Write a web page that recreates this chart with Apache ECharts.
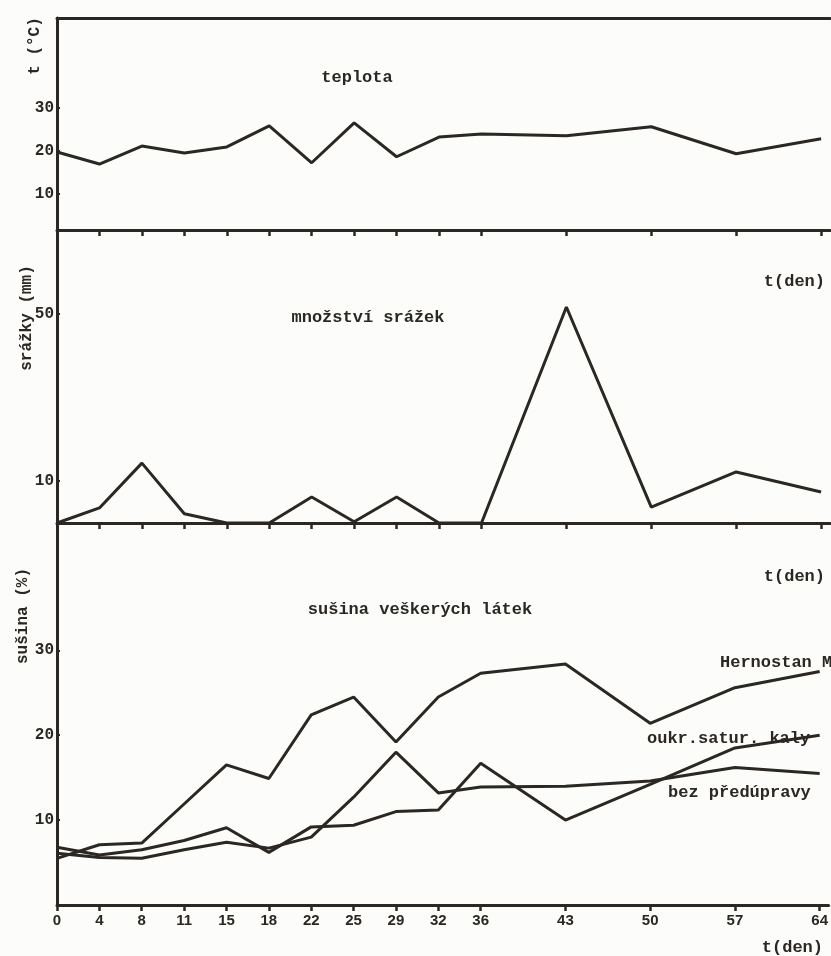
<!DOCTYPE html>
<html>
<head>
<meta charset="utf-8">
<script src="https://cdn.jsdelivr.net/npm/echarts@6/dist/echarts.min.js"></script>
<style>
html,body{margin:0;padding:0;background:#fcfcfa;}
#c{width:831px;height:956px;}
</style>
</head>
<body>
<div id="c"></div>
<script>
// ---- data ----
// x tick labels as laid out on the axis (blank slots = weekly gaps)
const slots = ['0','4','8','11','15','18','22','25','29','32','36','','43','','50','','57','','64'];
const days = [0, 4, 8, 11, 15, 18, 22, 25, 29, 32, 36, 43, 50, 57, 64];
const teplota = [19.7, 16.9, 21.1, 19.5, 20.9, 25.8, 17.2, 26.5, 18.6, 23.2, 23.9, 23.5, 25.6, 19.3, 22.8];
const srazky = [0, 3.6, 14.3, 2.2, 0, 0, 6.2, 0.3, 6.2, 0, 0, 51.6, 3.8, 12.2, 7.4];
const hernostan = [5.5, 7.1, 7.3, 11.9, 16.5, 14.9, 22.4, 24.5, 19.2, 24.5, 27.3, 28.4, 21.4, 25.6, 27.5];
const oukrSatur = [6.8, 5.9, 6.5, 7.6, 9.1, 6.2, 9.2, 9.4, 11.0, 11.2, 16.7, 10.0, 14.2, 18.5, 20.0];
const bezPredupravy = [6.1, 5.6, 5.5, 6.5, 7.4, 6.7, 8.0, 12.7, 18.0, 13.2, 13.9, 14.0, 14.6, 16.2, 15.5];
const yTicksTemp = [10, 20, 30];
const yTicksRain = [10, 50];
const yTicksDry = [10, 20, 30];

// ---- build ----
const ink = '#2b2722';
const slotOf = d => slots.indexOf(String(d));
const tickPos = days.map(slotOf);
const pairs = vals => days.map((d, i) => [slotOf(d), vals[i]]);
const mono = '"Liberation Mono", "DejaVu Sans Mono", monospace';

function xAxis(gi, showLabel) {
  return {
    type: 'value', gridIndex: gi, min: 0, max: 18.21, position: 'bottom',
    axisLine: {show: true, onZero: false, lineStyle: {color: ink, width: 3}},
    axisTick: {show: true, customValues: tickPos, length: 6, lineStyle: {color: ink, width: 2.5}},
    axisLabel: {show: showLabel, customValues: tickPos, margin: 8,
      formatter: v => slots[Math.round(v)],
      color: ink, fontFamily: '"Liberation Sans", Arial, sans-serif', fontWeight: 'bold', fontSize: 15},
    splitLine: {show: false}
  };
}
function yAxis(gi, min, max, ticks) {
  return {
    type: 'value', gridIndex: gi, min: min, max: max,
    axisLine: {show: true, onZero: false, lineStyle: {color: ink, width: 3}},
    axisTick: {show: true, customValues: ticks, inside: true, length: 3, lineStyle: {color: ink, width: 2}},
    axisLabel: {customValues: ticks, margin: 3, color: ink, fontFamily: mono, fontWeight: 'bold', fontSize: 16},
    splitLine: {show: false}
  };
}
const lineSeries = (name, xi, yi, vals) => ({
  name: name, type: 'line', xAxisIndex: xi, yAxisIndex: yi, data: pairs(vals),
  symbol: 'none', lineStyle: {color: ink, width: 3}, itemStyle: {color: ink}, z: 3
});
function txt(text, x, y, opts) {
  opts = opts || {};
  return {
    type: 'text', x: x, y: y, rotation: opts.rot || 0, z: 10,
    style: {text: text, fill: ink, font: 'bold ' + (opts.size || 17) + 'px ' + mono,
      textAlign: opts.align || 'left', textVerticalAlign: 'middle'}
  };
}

const option = {
  backgroundColor: '#fcfcfa',
  animation: false,
  grid: [
    {left: 57, right: 1, top: 18, height: 212},
    {left: 57, right: 1, top: 230, height: 293},
    {left: 57, right: 1, top: 523, height: 382}
  ],
  xAxis: [
    xAxis(0, false), xAxis(1, false), xAxis(2, true),
    {type: 'value', gridIndex: 0, min: 0, max: 18.21, position: 'top',
      axisLine: {show: true, lineStyle: {color: ink, width: 3}}, axisTick: {show: false},
      axisLabel: {show: false}, splitLine: {show: false}}
  ],
  yAxis: [
    yAxis(0, 1.5, 51, yTicksTemp), yAxis(1, 0, 70, yTicksRain), yAxis(2, 0, 45, yTicksDry),
    {type: 'value', gridIndex: 0, min: 1.5, max: 51, position: 'right',
      axisLine: {show: true, lineStyle: {color: ink, width: 2}}, axisTick: {show: false},
      axisLabel: {show: false}, splitLine: {show: false}}
  ],
  series: [
    lineSeries('teplota', 0, 0, teplota),
    lineSeries('množství srážek', 1, 1, srazky),
    lineSeries('Hernostan M', 2, 2, hernostan),
    lineSeries('oukr.satur. kaly', 2, 2, oukrSatur),
    lineSeries('bez předúpravy', 2, 2, bezPredupravy)
  ],
  graphic: [
    txt('t (°C)', 35, 46, {rot: Math.PI / 2, align: 'center', size: 16}),
    txt('teplota', 357, 78, {align: 'center'}),
    txt('srážky (mm)', 27, 318, {rot: Math.PI / 2, align: 'center', size: 16}),
    txt('t(den)', 825, 282, {align: 'right'}),
    txt('množství srážek', 368, 318, {align: 'center'}),
    txt('sušina (%)', 23, 616, {rot: Math.PI / 2, align: 'center', size: 16}),
    txt('t(den)', 825, 577, {align: 'right'}),
    txt('sušina veškerých látek', 420, 610, {align: 'center'}),
    txt('Hernostan M', 720, 663),
    txt('oukr.satur. kaly', 647, 739),
    txt('bez předúpravy', 668, 793),
    txt('t(den)', 823, 948, {align: 'right'})
  ]
};
const chart = echarts.init(document.getElementById('c'), null, {renderer: 'canvas'});
chart.setOption(option);
</script>
</body>
</html>
